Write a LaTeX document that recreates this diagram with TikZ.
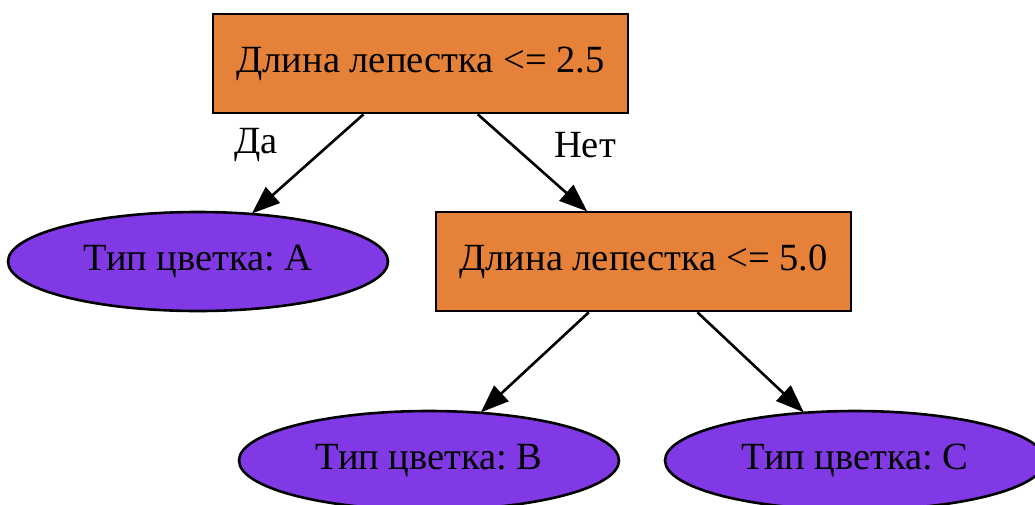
\documentclass[tikz,border=0pt]{standalone}
\usepackage{fontspec}
\setmainfont{Liberation Serif}
\usetikzlibrary{arrows.meta,shapes.geometric}
\definecolor{splitfill}{HTML}{E58139}
\definecolor{leaffill}{HTML}{8139E5}
\frenchspacing
\tikzset{
  splitbox/.style={draw=black, fill=splitfill, rectangle, line width=2.6pt,
    minimum width=415pt, minimum height=99pt, inner sep=0pt},
  leafnode/.style={draw=black, fill=leaffill, ellipse, line width=2.6pt,
    minimum width=380pt, minimum height=99pt, inner sep=0pt},
  branch/.style={line width=2.6pt, -{Triangle[length=28pt,width=21pt]}, shorten >=-1pt},
  edgelabel/.style={inner sep=0pt}
}
\begin{document}
\begin{tikzpicture}[x=1pt, y=-1pt, font=\fontsize{38.5}{46}\selectfont]
  \clip (0,0) rectangle (1035,504);
  \fill[white] (0,0) rectangle (1035,504);

  % decision nodes
  \node[splitbox] (root) at (420.5,63.5) {Длина лепестка <= 2.5};
  \node[splitbox] (split) at (643.5,261.5) {Длина лепестка <= 5.0};

  % leaves
  \node[leafnode] (leafA) at (198,261.5) {Тип цветка: A};
  \node[leafnode] (leafB) at (429,460.5) {Тип цветка: B};
  \node[leafnode] (leafC) at (855,460.5) {Тип цветка: C};

  % branches
  \draw[branch] (root) -- (leafA);
  \draw[branch] (root) -- (split);
  \draw[branch] (split) -- (leafB);
  \draw[branch] (split) -- (leafC);

  % branch labels
  \node[edgelabel] (yes) at (256,145) {Да};
  \node[edgelabel] (no) at (585,145) {Нет};
\end{tikzpicture}
\end{document}
